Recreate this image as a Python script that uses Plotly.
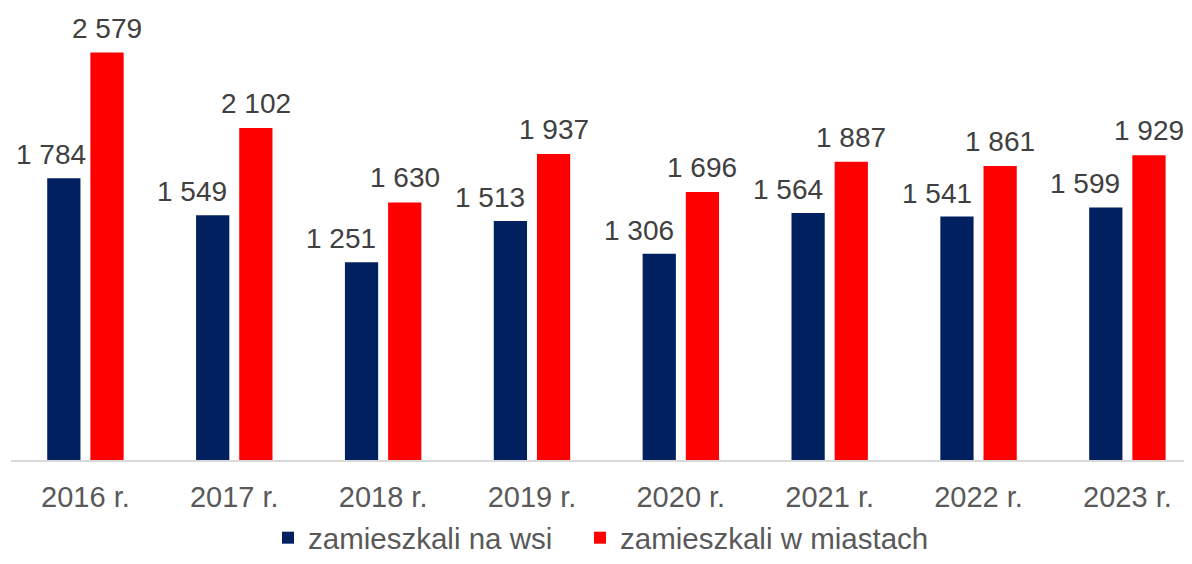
import plotly.graph_objects as go

categories = ["2016 r.", "2017 r.", "2018 r.", "2019 r.", "2020 r.", "2021 r.", "2022 r.", "2023 r."]
wies = [1784, 1549, 1251, 1513, 1306, 1564, 1541, 1599]
miasta = [2579, 2102, 1630, 1937, 1696, 1887, 1861, 1929]
series_names = ["zamieszkali na wsi", "zamieszkali w miastach"]
colors = ["#002060", "#FF0000"]

# small horizontal nudges (px) for the rural-series labels
wies_label_nudge = [8, 0, 0, 0, 0, 0, 0, 0]

def fmt(v):
    return f"{v:,}".replace(",", " ")

FONT = "Liberation Sans, Arial, sans-serif"
W, H = 1184, 556

fig = go.Figure()
fig.add_trace(go.Bar(x=categories, y=wies, name=series_names[0], legend="legend",
                     marker=dict(color=colors[0], line=dict(width=0))))
fig.add_trace(go.Bar(x=categories, y=miasta, name=series_names[1], legend="legend2",
                     marker=dict(color=colors[1], line=dict(width=0))))

off = 0.145
annotations = []
for i, (a, b) in enumerate(zip(wies, miasta)):
    annotations.append(dict(x=i - off, y=a, xref="x", yref="y", text=fmt(a), showarrow=False,
                            xanchor="right", yanchor="bottom", xshift=16.6 + wies_label_nudge[i], yshift=6,
                            font=dict(family=FONT, size=28, color="#404040")))
    annotations.append(dict(x=i + off, y=b, xref="x", yref="y", text=fmt(b), showarrow=False,
                            xanchor="center", yanchor="bottom", yshift=7,
                            font=dict(family=FONT, size=28, color="#404040")))

legend_common = dict(orientation="h", xref="container", yref="container",
                     xanchor="left", y=-6 / H, yanchor="bottom",
                     font=dict(family=FONT, size=29.5, color="#595959"), itemwidth=30,
                     bgcolor="rgba(0,0,0,0)")

fig.update_layout(
    width=W, height=H,
    margin=dict(l=3, r=0, t=12, b=104, autoexpand=False),
    paper_bgcolor="white", plot_bgcolor="white",
    barmode="group", bargap=0.42, bargroupgap=0.23,
    font=dict(family=FONT, size=29, color="#595959"),
    annotations=annotations,
    showlegend=True,
    legend=dict(legend_common, x=260 / W),
    legend2=dict(legend_common, x=572 / W),
    xaxis=dict(range=[-0.5, 7.434], showline=True, linecolor="#D9D9D9", linewidth=1.5,
               ticks="", showgrid=False, zeroline=False, ticklabelstandoff=10,
               tickfont=dict(family=FONT, size=29, color="#595959"), fixedrange=True),
    yaxis=dict(range=[0, 2785], visible=False, showgrid=False, zeroline=False, fixedrange=True),
)

fig.write_html("out.html")
